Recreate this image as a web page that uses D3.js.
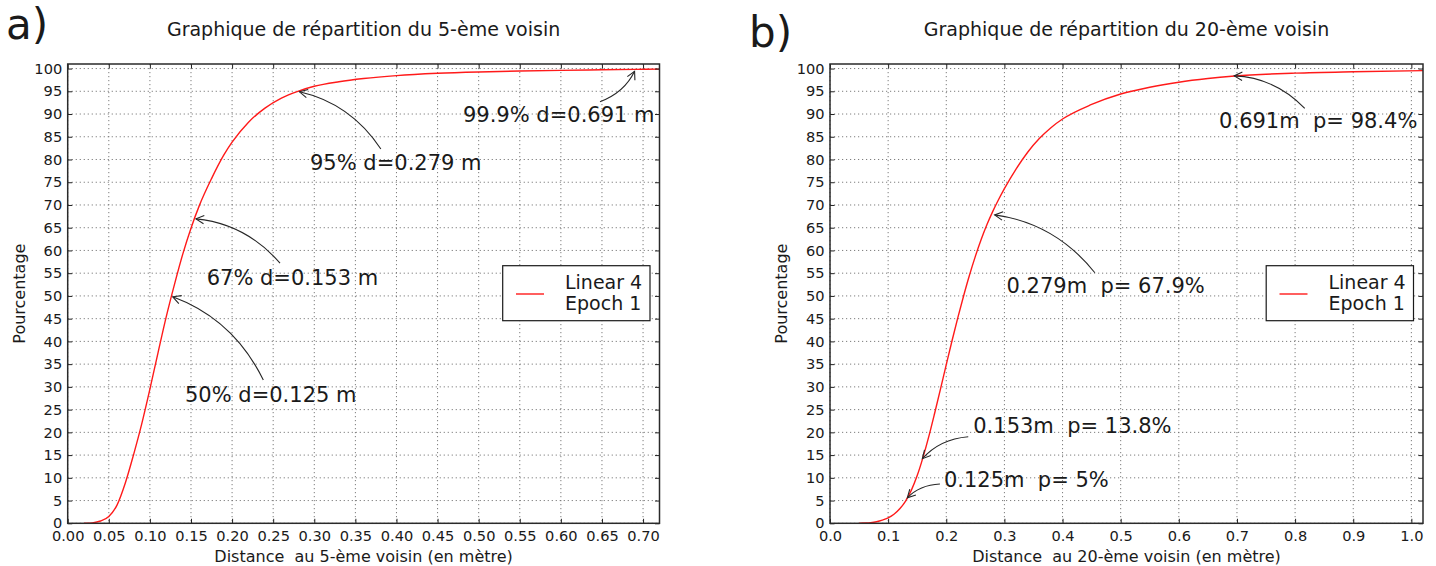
<!DOCTYPE html>
<html>
<head>
<meta charset="utf-8">
<script src="https://cdn.jsdelivr.net/npm/d3@7"></script>
<style>
  html, body { margin: 0; padding: 0; background: #fff; }
  svg { display: block; font-family: "DejaVu Sans", sans-serif; }
  text { white-space: pre; fill: #1a1a1a; }
</style>
</head>
<body>
<svg id="chart" width="1436" height="566"></svg>
<script>
// ---------- data ----------
const seriesName = ["Linear 4", "Epoch 1"];

// Panel a) : 5th neighbour
const distA = [0.020, 0.030, 0.040, 0.050, 0.060, 0.070, 0.080, 0.090, 0.100, 0.110, 0.120, 0.130, 0.140, 0.150, 0.160, 0.175, 0.190, 0.200, 0.220, 0.240, 0.260, 0.280, 0.300, 0.330, 0.360, 0.400, 0.450, 0.500, 0.550, 0.600, 0.650, 0.691, 0.720];
const pctA  = [0, 0.1, 0.5, 1.5, 4.0, 8.8, 15.0, 21.8, 29.5, 37.6, 45.5, 52.6, 59.2, 64.9, 69.8, 75.8, 81.0, 83.8, 88.2, 91.3, 93.5, 95.0, 96.1, 97.1, 97.8, 98.45, 98.95, 99.25, 99.45, 99.6, 99.72, 99.82, 99.87];

// Panel b) : 20th neighbour
const distB = [0.050, 0.060, 0.070, 0.080, 0.090, 0.100, 0.110, 0.120, 0.130, 0.140, 0.150, 0.160, 0.170, 0.180, 0.190, 0.200, 0.210, 0.220, 0.230, 0.240, 0.250, 0.260, 0.270, 0.280, 0.290, 0.300, 0.320, 0.340, 0.360, 0.380, 0.400, 0.450, 0.500, 0.550, 0.600, 0.650, 0.691, 0.750, 0.800, 0.900, 1.020];
const pctB  = [0, 0.05, 0.15, 0.35, 0.7, 1.2, 2.0, 3.2, 4.9, 7.3, 10.5, 14.5, 19.1, 24.2, 29.5, 34.9, 40.2, 45.3, 50.1, 54.6, 58.7, 62.4, 65.7, 68.6, 71.2, 73.6, 77.9, 81.6, 84.6, 87.0, 88.9, 92.1, 94.4, 95.9, 97.0, 97.8, 98.3, 98.75, 99.0, 99.3, 99.55];

const yTicks  = [0,5,10,15,20,25,30,35,40,45,50,55,60,65,70,75,80,85,90,95,100];
const xTicksA = [0,0.05,0.10,0.15,0.20,0.25,0.30,0.35,0.40,0.45,0.50,0.55,0.60,0.65,0.70];
const xTicksB = [0,0.1,0.2,0.3,0.4,0.5,0.6,0.7,0.8,0.9,1.0];

// annotations: text, text anchor (data), arrow tail (data), arrow tip (data)
const annTextA = ["99.9% d=0.691 m", "95% d=0.279 m", "67% d=0.153 m", "50% d=0.125 m"];
const annPosA  = [[0.4809, 88.3], [0.2948, 77.6], [0.1691, 52.4], [0.1427, 26.7]];
const annTailA = [[0.6476, 92.7], [0.381, 82.3], [0.2583, 57.2], [0.238, 31.5]];
const annTipA  = [[0.691, 99.9], [0.279, 95], [0.153, 67], [0.125, 50]];

const annTextB = ["0.691m  p= 98.4%", "0.279m  p= 67.9%", "0.153m  p= 13.8%", "0.125m  p= 5%"];
const annPosB  = [[0.6693, 86.85], [0.3037, 50.57], [0.2464, 19.79], [0.196, 7.9]];
const annTailB = [[0.8166, 91.25], [0.4556, 55.1], [0.2378, 19.04], [0.1891, 8.64]];
const annTipB  = [[0.691, 98.4], [0.279, 67.9], [0.156, 13.8], [0.130, 5.2]];

const titles  = ["Graphique de répartition du 5-ème voisin", "Graphique de répartition du 20-ème voisin"];
const xLabels = ["Distance  au 5-ème voisin (en mètre)", "Distance  au 20-ème voisin (en mètre)"];
const yLabel  = "Pourcentage";
const letters = ["a)", "b)"];

// ---------- drawing ----------
const svg = d3.select("#chart");

const panels = [
  { left: 67.7, right: 659.5, top: 64, bottom: 523.3, xMax: 0.72, xTicks: xTicksA, fmt: d3.format(".2f"),
    xs: distA, ys: pctA, annText: annTextA, annPos: annPosA, annTail: annTailA, annTip: annTipA,
    title: titles[0], xlabel: xLabels[0], letter: letters[0], letterX: 6, letterY: 39 },
  { left: 830, right: 1423, top: 64, bottom: 523.3, xMax: 1.02, xTicks: xTicksB, fmt: d3.format(".1f"),
    xs: distB, ys: pctB, annText: annTextB, annPos: annPosB, annTail: annTailB, annTip: annTipB,
    title: titles[1], xlabel: xLabels[1], letter: letters[1], letterX: 749, letterY: 47 }
];

function drawPanel(p) {
  const x = d3.scaleLinear().domain([0, p.xMax]).range([p.left, p.right]);
  const y = d3.scaleLinear().domain([0, 101]).range([p.bottom, p.top]);
  const g = svg.append("g");

  // grid
  const grid = g.append("g").attr("stroke", "#6e6e6e").attr("stroke-width", 0.9)
    .attr("stroke-dasharray", "1.2,2.8").attr("fill", "none");
  grid.selectAll("line.vx").data(p.xTicks).join("line")
    .attr("x1", d => x(d)).attr("x2", d => x(d)).attr("y1", p.top).attr("y2", p.bottom);
  grid.selectAll("line.hy").data(yTicks).join("line")
    .attr("y1", d => y(d)).attr("y2", d => y(d)).attr("x1", p.left).attr("x2", p.right);

  // curve
  const pts = p.xs.map((v, i) => [v, p.ys[i]]);
  const clipId = "clip" + Math.round(p.left);
  svg.append("clipPath").attr("id", clipId).append("rect")
    .attr("x", p.left).attr("y", p.top).attr("width", p.right - p.left).attr("height", p.bottom - p.top);
  g.append("path").datum(pts)
    .attr("clip-path", `url(#${clipId})`)
    .attr("fill", "none").attr("stroke", "#ff1a1a").attr("stroke-width", 1.4)
    .attr("d", d3.line().x(d => x(d[0])).y(d => y(d[1])).curve(d3.curveMonotoneX));

  // axes (ticks inside, all four sides)
  const tickCol = "#222";
  const axB = g.append("g").attr("transform", `translate(0,${p.bottom})`)
    .call(d3.axisBottom(x).tickValues(p.xTicks).tickFormat(p.fmt).tickSizeInner(-4.5).tickSizeOuter(0).tickPadding(7));
  const axT = g.append("g").attr("transform", `translate(0,${p.top})`)
    .call(d3.axisTop(x).tickValues(p.xTicks).tickFormat("").tickSizeInner(-4.5).tickSizeOuter(0));
  const axL = g.append("g").attr("transform", `translate(${p.left},0)`)
    .call(d3.axisLeft(y).tickValues(yTicks).tickFormat(d3.format("d")).tickSizeInner(-4.5).tickSizeOuter(0).tickPadding(5.5));
  const axR = g.append("g").attr("transform", `translate(${p.right},0)`)
    .call(d3.axisRight(y).tickValues(yTicks).tickFormat("").tickSizeInner(-4.5).tickSizeOuter(0));
  [axB, axT, axL, axR].forEach(a => {
    a.select(".domain").remove();
    a.selectAll(".tick line").attr("stroke", tickCol).attr("stroke-width", 1);
    a.selectAll(".tick text").attr("font-family", "DejaVu Sans").attr("font-size", 14.6).attr("fill", "#1a1a1a");
  });

  // frame
  g.append("rect").attr("x", p.left).attr("y", p.top)
    .attr("width", p.right - p.left).attr("height", p.bottom - p.top)
    .attr("fill", "none").attr("stroke", "#2a2a2a").attr("stroke-width", 1.5);

  // title & labels
  g.append("text").attr("x", (p.left + p.right) / 2).attr("y", 36)
    .attr("text-anchor", "middle").attr("font-size", 19).text(p.title);
  g.append("text").attr("x", (p.left + p.right) / 2).attr("y", 561.5)
    .attr("text-anchor", "middle").attr("font-size", 16).text(p.xlabel);
  g.append("text").attr("transform", `translate(${p.left - 43},${(p.top + p.bottom) / 2}) rotate(-90)`)
    .attr("text-anchor", "middle").attr("font-size", 16).text(yLabel);
  g.append("text").attr("x", p.letterX).attr("y", p.letterY)
    .attr("font-size", 42).text(p.letter);

  // legend
  const lx = p.right - 156.8, ly = 265.7;
  g.append("rect").attr("x", lx).attr("y", ly).attr("width", 147.3).attr("height", 55)
    .attr("fill", "#fff").attr("stroke", "#1a1a1a").attr("stroke-width", 1.2);
  g.append("line").attr("x1", lx + 13.3).attr("x2", lx + 41.3).attr("y1", ly + 28.3).attr("y2", ly + 28.3)
    .attr("stroke", "#ff1a1a").attr("stroke-width", 1.4);
  g.append("text").attr("x", lx + 62.3).attr("y", ly + 23.6).attr("font-size", 19).text(seriesName[0]);
  g.append("text").attr("x", lx + 62.3).attr("y", ly + 44.3).attr("font-size", 19).text(seriesName[1]);

  // annotations
  const rad = 0.2;
  p.annText.forEach((t, i) => {
    g.append("text").attr("x", x(p.annPos[i][0])).attr("y", y(p.annPos[i][1]))
      .attr("font-size", 21).text(t);
    const x1 = x(p.annTail[i][0]), y1 = y(p.annTail[i][1]);
    let x2 = x(p.annTip[i][0]), y2 = y(p.annTip[i][1]);
    const dx = x2 - x1, dy = y2 - y1;
    const cx = (x1 + x2) / 2 - rad * dy, cy = (y1 + y2) / 2 + rad * dx;
    // shrink tip
    let ux = x2 - cx, uy = y2 - cy; const ul = Math.hypot(ux, uy); ux /= ul; uy /= ul;
    x2 -= ux * 2.5; y2 -= uy * 2.5;
    g.append("path").attr("d", `M${x1},${y1} Q${cx},${cy} ${x2},${y2}`)
      .attr("fill", "none").attr("stroke", "#262626").attr("stroke-width", 1.1);
    const hl = 8, hw = 4.2;
    const bx = x2 - ux * hl, by = y2 - uy * hl;
    g.append("path")
      .attr("d", `M${bx - uy * hw},${by + ux * hw} L${x2},${y2} L${bx + uy * hw},${by - ux * hw}`)
      .attr("fill", "none").attr("stroke", "#262626").attr("stroke-width", 1.1);
  });
}

panels.forEach(drawPanel);
</script>
</body>
</html>
